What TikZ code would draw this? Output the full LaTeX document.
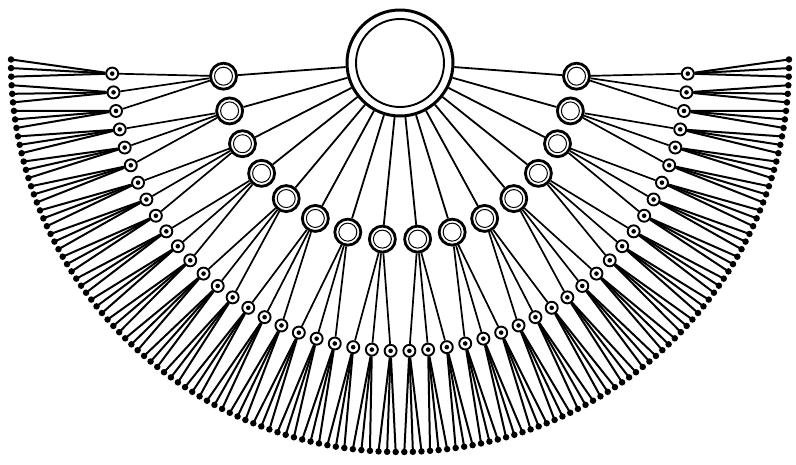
\documentclass[tikz,border=0pt]{standalone}
\begin{document}
\begin{tikzpicture}[x=1pt,y=-1pt,
  bigc/.style={circle, draw, line width=3pt, minimum size=106pt, inner sep=0pt},
  medc/.style={circle, draw, line width=2.8pt, minimum size=26pt, inner sep=0pt, fill=white},
  smallc/.style={circle, draw, line width=1.9pt, minimum size=12pt, inner sep=0pt, fill=white},
  enddot/.style={circle, fill, minimum size=6.5pt, inner sep=0pt},
  spoke/.style={line width=1.8pt},
  branch/.style={line width=1.7pt},
  twig/.style={line width=2pt}]
\useasboundingbox (0,0) rectangle (796,464);
% central circle
\node[bigc] (C) at (400,63) {};
\draw[line width=1.9pt] (C.center) circle[radius=44];
% outer end dots
\foreach \m in {0,...,143} {
  \pgfmathsetmacro\ang{90+1.266*(\m-71.5)}
  \node[enddot] (e\m) at ({400+389*cos(\ang)},{63+389*sin(\ang)}) {};
}
% small circles
\foreach \i in {0,...,47} {
  \pgfmathsetmacro\ang{90+3.74*(\i-23.5)}
  \node[smallc] (s\i) at ({400+288*cos(\ang)},{63+288*sin(\ang)}) {};
  \fill (s\i.center) circle[radius=2.3];
}
% medium circles
\foreach \k in {0,...,15} {
  \pgfmathsetmacro\ang{90+11.43*(\k-7.5)}
  \node[medc] (m\k) at ({400+177*cos(\ang)},{63+177*sin(\ang)}) {};
  \draw[line width=1pt] (m\k.center) circle[radius=9];
}
% connectors
\foreach \k in {0,...,15} {
  \draw[spoke] (C) -- (m\k);
}
\foreach \i in {0,...,47} {
  \pgfmathtruncatemacro\k{int(\i/3)}
  \draw[branch] (m\k) -- (s\i);
  \pgfmathtruncatemacro\ea{3*\i}
  \pgfmathtruncatemacro\eb{3*\i+1}
  \pgfmathtruncatemacro\ec{3*\i+2}
  \draw[twig] (s\i) -- (e\ea.center);
  \draw[twig] (s\i) -- (e\eb.center);
  \draw[twig] (s\i) -- (e\ec.center);
}
\end{tikzpicture}
\end{document}
